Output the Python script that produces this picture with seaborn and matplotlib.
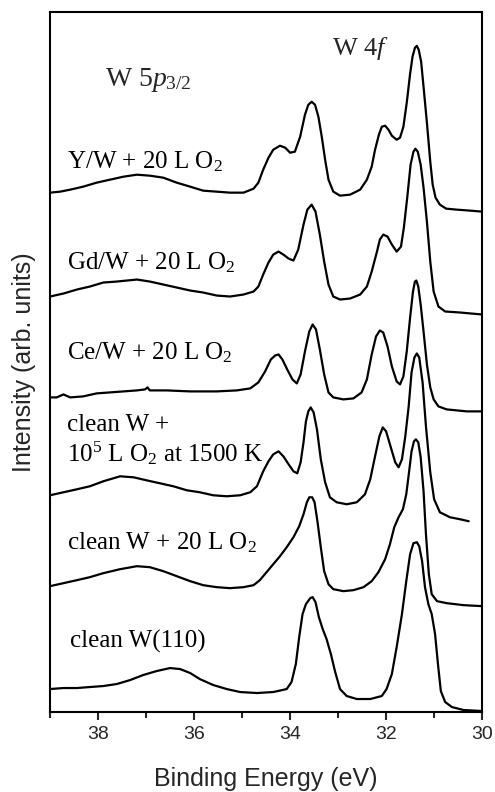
import matplotlib
matplotlib.use("Agg")
import matplotlib.pyplot as plt
from matplotlib.ticker import MultipleLocator
import pandas as pd
import seaborn as sns

# W 4f / W 5p3/2 photoemission spectra, binding energy (eV) vs. stacked intensity (arb. units)
yw_energy = [39.00, 38.79, 38.58, 38.31, 38.03, 37.75, 37.47, 37.19, 36.92, 36.64, 36.36, 36.08,
             35.81, 35.53, 35.25, 34.97, 34.76, 34.66, 34.56, 34.45, 34.35, 34.21, 34.10, 34.00,
             33.90, 33.79, 33.69, 33.62, 33.55, 33.48, 33.41, 33.34, 33.27, 33.20, 33.10, 32.96,
             32.75, 32.54, 32.40, 32.30, 32.23, 32.15, 32.09, 32.02, 31.95, 31.88, 31.78, 31.71,
             31.64, 31.57, 31.50, 31.45, 31.40, 31.36, 31.32, 31.27, 31.22, 31.15, 31.08, 31.03,
             30.97, 30.88, 30.75, 30.53, 30.25, 30.00]
yw_intensity = [519, 520, 522, 525, 529, 532, 535, 537, 536, 534, 529, 525,
                521, 520, 519, 519, 523, 529, 542, 554, 562, 566, 564, 559,
                560, 575, 597, 607, 610, 607, 595, 575, 552, 532, 520, 516,
                517, 522, 532, 545, 562, 577, 585, 586, 582, 576, 572, 574,
                585, 609, 638, 655, 664, 666, 662, 650, 625, 589, 550, 527,
                514, 507, 503, 502, 501, 500]

gd_energy = [39.00, 38.72, 38.44, 38.17, 37.89, 37.61, 37.19, 36.92, 36.64, 36.36, 36.08, 35.81,
             35.53, 35.25, 34.97, 34.76, 34.66, 34.56, 34.45, 34.35, 34.24, 34.14, 34.03, 33.93,
             33.83, 33.72, 33.64, 33.55, 33.47, 33.38, 33.29, 33.20, 33.10, 32.96, 32.75, 32.54,
             32.40, 32.30, 32.19, 32.13, 32.06, 31.97, 31.88, 31.78, 31.69, 31.63, 31.56, 31.49,
             31.43, 31.39, 31.34, 31.28, 31.22, 31.15, 31.08, 31.01, 30.91, 30.77, 30.46, 30.00]
gd_intensity = [415, 418, 422, 425, 429, 430, 432, 430, 427, 424, 421, 419,
                416, 415, 417, 420, 425, 437, 449, 457, 460, 457, 453, 451,
                462, 487, 502, 507, 500, 477, 450, 427, 415, 412, 413, 417,
                425, 440, 460, 472, 477, 475, 467, 460, 465, 484, 514, 547,
                560, 563, 560, 547, 524, 490, 450, 420, 405, 400, 399, 397]

ce_energy = [39.00, 38.86, 38.72, 38.58, 38.31, 38.03, 37.75, 37.47, 37.19, 37.02, 36.97, 36.92,
             36.57, 36.08, 35.53, 35.11, 34.83, 34.66, 34.52, 34.40, 34.31, 34.24, 34.16, 34.06,
             33.95, 33.86, 33.78, 33.69, 33.60, 33.53, 33.46, 33.38, 33.29, 33.20, 33.10, 32.89,
             32.68, 32.51, 32.40, 32.30, 32.21, 32.13, 32.06, 31.97, 31.88, 31.78, 31.71, 31.64,
             31.57, 31.50, 31.44, 31.40, 31.37, 31.33, 31.28, 31.22, 31.15, 31.08, 31.01, 30.91,
             30.74, 30.32, 30.00]
ce_intensity = [314, 314, 317, 314, 315, 318, 319, 320, 321, 322, 324, 321,
                321, 320, 320, 321, 323, 329, 340, 352, 356, 357, 352, 342,
                332, 328, 337, 360, 380, 387, 382, 362, 337, 319, 314, 312,
                313, 319, 332, 357, 375, 381, 379, 365, 345, 330, 327, 335,
                360, 394, 420, 430, 431, 425, 407, 380, 347, 324, 312, 305,
                302, 300, 300]

ox_hot_energy = [39.00, 38.72, 38.44, 38.17, 37.89, 37.54, 37.26, 36.99, 36.71, 36.43, 36.15, 35.88,
                 35.60, 35.32, 35.04, 34.83, 34.69, 34.56, 34.45, 34.35, 34.24, 34.14, 34.03, 33.93,
                 33.85, 33.78, 33.72, 33.67, 33.62, 33.57, 33.51, 33.44, 33.36, 33.27, 33.17, 33.03,
                 32.82, 32.61, 32.44, 32.33, 32.23, 32.14, 32.07, 32.00, 31.92, 31.81, 31.74, 31.67,
                 31.60, 31.53, 31.47, 31.41, 31.36, 31.31, 31.24, 31.17, 31.08, 31.00, 30.88, 30.67,
                 30.46, 30.28]
ox_hot_intensity = [216, 219, 222, 225, 230, 235, 234, 231, 228, 225, 221, 219,
                    216, 215, 216, 219, 225, 240, 250, 257, 260, 255, 247, 240,
                    238, 249, 269, 290, 300, 304, 299, 282, 252, 229, 214, 209,
                    207, 209, 217, 232, 255, 275, 284, 280, 267, 249, 244, 252,
                    275, 305, 339, 354, 358, 354, 329, 285, 239, 212, 199, 194,
                    192, 190]

ox20_energy = [39.00, 38.72, 38.44, 38.17, 37.89, 37.54, 37.19, 36.92, 36.64, 36.36, 36.08, 35.81,
               35.53, 35.25, 34.97, 34.76, 34.63, 34.49, 34.35, 34.21, 34.07, 33.93, 33.81, 33.72,
               33.65, 33.60, 33.54, 33.49, 33.43, 33.36, 33.29, 33.20, 33.10, 32.89, 32.68, 32.47,
               32.30, 32.16, 32.02, 31.92, 31.83, 31.74, 31.65, 31.58, 31.52, 31.47, 31.42, 31.38,
               31.33, 31.28, 31.22, 31.17, 31.11, 31.05, 30.94, 30.74, 30.39, 30.00]
ox20_intensity = [125, 128, 131, 134, 138, 142, 145, 144, 140, 135, 130, 126,
                  124, 123, 124, 126, 131, 139, 147, 155, 164, 174, 185, 197,
                  209, 214, 214, 209, 190, 164, 140, 127, 122, 120, 121, 124,
                  130, 139, 152, 167, 184, 194, 202, 217, 240, 260, 270, 272,
                  269, 254, 220, 177, 137, 117, 110, 108, 106, 105]

clean_energy = [39.00, 38.72, 38.44, 38.17, 37.89, 37.61, 37.33, 37.06, 36.78, 36.50, 36.29, 36.08,
                35.88, 35.60, 35.32, 35.04, 34.69, 34.35, 34.07, 33.97, 33.88, 33.81, 33.74, 33.67,
                33.58, 33.53, 33.47, 33.40, 33.32, 33.24, 33.15, 33.06, 32.96, 32.82, 32.61, 32.33,
                32.09, 31.99, 31.88, 31.78, 31.67, 31.58, 31.50, 31.43, 31.36, 31.31, 31.25, 31.19,
                31.12, 31.05, 30.98, 30.92, 30.86, 30.77, 30.63, 30.39, 30.00]
clean_intensity = [22, 23, 23, 24, 25, 27, 31, 36, 40, 43, 42, 38,
                   32, 26, 22, 19, 18, 19, 22, 29, 47, 74, 97, 107,
                   113, 114, 109, 94, 82, 72, 57, 39, 22, 15, 12, 12,
                   15, 22, 37, 64, 97, 130, 157, 168, 169, 165, 150, 124,
                   107, 97, 77, 47, 20, 9, 4, 1, 0]

sample_labels = [
    "Y/W + 20 L O$_2$",
    "Gd/W + 20 L O$_2$",
    "Ce/W + 20 L O$_2$",
    "clean W +\n10$^5$ L O$_2$ at 1500 K",
    "clean W + 20 L O$_2$",
    "clean W(110)",
]

series = [
    (yw_energy, yw_intensity),
    (gd_energy, gd_intensity),
    (ce_energy, ce_intensity),
    (ox_hot_energy, ox_hot_intensity),
    (ox20_energy, ox20_intensity),
    (clean_energy, clean_intensity),
]

frames = []
for name, (e, i) in zip(sample_labels, series):
    frames.append(pd.DataFrame({"energy": e, "intensity": i, "sample": name}))
spectra = pd.concat(frames, ignore_index=True)

sns.set_style("ticks")
plt.rcParams["font.family"] = ["Liberation Sans", "DejaVu Sans"]
plt.rcParams["mathtext.fontset"] = "custom"
plt.rcParams["mathtext.rm"] = "Liberation Serif"
plt.rcParams["mathtext.it"] = "Liberation Serif:italic"
plt.rcParams["mathtext.bf"] = "Liberation Serif:bold"

fig = plt.figure(figsize=(4.95, 7.92), dpi=100)
ax = fig.add_axes([0.101, 0.101, 0.873, 0.884])

for name in sample_labels:
    sub = spectra[spectra["sample"] == name]
    sns.lineplot(data=sub, x="energy", y="intensity", ax=ax, color="black",
                 linewidth=1.6, sort=False, estimator=None, legend=False)
for line in ax.lines:
    line.set_solid_joinstyle("round")

ax.set_xlim(39, 30)
ax.set_ylim(-1, 700)
ax.xaxis.set_major_locator(MultipleLocator(2))
ax.xaxis.set_minor_locator(MultipleLocator(1))
ax.set_yticks([])
ax.tick_params(axis="x", which="major", direction="out", length=6, width=1.5,
               labelsize=14, pad=4)
ax.tick_params(axis="x", which="minor", direction="out", length=4, width=1.5)
for side in ax.spines.values():
    side.set_visible(True)
    side.set_linewidth(1.5)
    side.set_color("black")

ax.set_xlabel("Binding Energy (eV)", fontsize=18, labelpad=17)
ax.set_ylabel("Intensity (arb. units)", fontsize=18, labelpad=10)

serif = ["Liberation Serif", "DejaVu Serif"]
label_pos = [(38.65, 543), (38.65, 442), (38.65, 352), (38.65, 250), (38.65, 162), (38.58, 64)]
for text, (x, y) in zip(sample_labels, label_pos):
    ax.text(x, y, text, family=serif, fontsize=18, ha="left", va="baseline",
            linespacing=1.15, color="black")

ax.text(37.85, 626, "W 5$p_{3/2}$", family=serif, fontsize=20, ha="left", va="baseline")
ax.text(33.12, 657, "W 4$f$", family=serif, fontsize=19, ha="left", va="baseline")

fig.savefig("out.png", dpi=100)
